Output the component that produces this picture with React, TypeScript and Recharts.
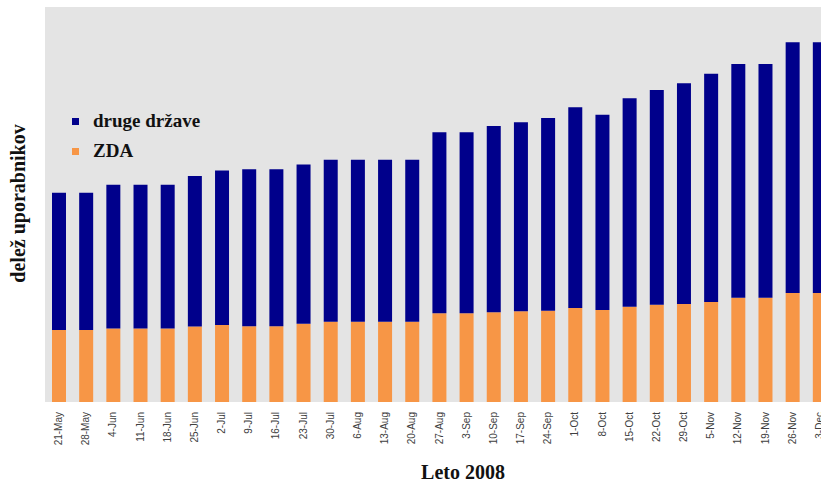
import { BarChart, Bar, XAxis, YAxis, CartesianGrid, Legend, Label } from "recharts"

// weekly share of users, 2008 (ZDA at the bottom of each stack)
const weeks = [
  "21-May", "28-May", "4-Jun", "11-Jun", "18-Jun", "25-Jun", "2-Jul", "9-Jul", "16-Jul", "23-Jul",
  "30-Jul", "6-Aug", "13-Aug", "20-Aug", "27-Aug", "3-Sep", "10-Sep", "17-Sep", "24-Sep", "1-Oct",
  "8-Oct", "15-Oct", "22-Oct", "29-Oct", "5-Nov", "12-Nov", "19-Nov", "26-Nov", "3-Dec",
]

const zda = [
  18.2, 18.2, 18.6, 18.6, 18.6, 19.1, 19.5, 19.2, 19.2, 19.8,
  20.3, 20.3, 20.3, 20.3, 22.5, 22.5, 22.7, 23.0, 23.1, 23.8,
  23.3, 24.1, 24.6, 24.8, 25.3, 26.4, 26.4, 27.6, 27.6,
]

const drugeDrzave = [
  34.8, 34.8, 36.4, 36.4, 36.4, 38.1, 39.1, 39.7, 39.7, 40.3,
  41.0, 41.0, 41.0, 41.0, 45.8, 45.8, 47.2, 47.8, 48.8, 50.8,
  49.4, 52.8, 54.4, 55.9, 57.8, 59.2, 59.2, 63.5, 63.5,
]

const data = weeks.map((week, i) => ({ week, zda: zda[i], druge: drugeDrzave[i] }))

const BLUE = "#00008b"
const ORANGE = "#f79646"
const serif = "'Liberation Serif', 'Times New Roman', serif"

const legendItems = [
  { name: "druge države", color: BLUE },
  { name: "ZDA", color: ORANGE },
]

function WeekTick({ x, y, payload }: any) {
  return (
    <g transform={`translate(${x},${y})`}>
      <text
        transform="rotate(-90)"
        textAnchor="end"
        dy="0.35em"
        fontSize={10}
        fill="#404040"
        fontFamily="'Liberation Sans', Arial, sans-serif"
      >
        {payload.value}
      </text>
    </g>
  )
}

function SeriesLegend() {
  return (
    <div style={{ fontFamily: serif, fontWeight: "bold", fontSize: 19, color: "#111" }}>
      {legendItems.map((item) => (
        <div key={item.name} style={{ display: "flex", alignItems: "center", height: 30 }}>
          <span style={{ width: 7, height: 7, background: item.color, marginRight: 14 }} />
          <span>{item.name}</span>
        </div>
      ))}
    </div>
  )
}

export default function App() {
  return (
    <div style={{ position: "fixed", left: 0, top: 0, width: 821, height: 484, overflow: "hidden", background: "#fff" }}>
      <BarChart width={840} height={484} data={data} margin={{ top: 7, right: 7, left: 0, bottom: 0 }}>
        <CartesianGrid horizontal={false} vertical={false} fill="#e4e4e4" />
        <XAxis
          dataKey="week"
          interval={0}
          height={82}
          axisLine={false}
          tickLine={false}
          tickSize={0}
          tickMargin={10}
          tick={<WeekTick />}
        >
          <Label
            content={({ viewBox }: any) => (
              <text
                x={viewBox.x + viewBox.width / 2 + 24}
                y={viewBox.y + 77}
                textAnchor="middle"
                fontFamily={serif}
                fontWeight="bold"
                fontSize={20}
                fill="#111"
              >
                Leto 2008
              </text>
            )}
          />
        </XAxis>
        <YAxis width={45} domain={[0, 100]} tick={false} axisLine={false} tickLine={false}>
          <Label
            content={({ viewBox }: any) => {
              const cx = 25
              const cy = viewBox.y + viewBox.height / 2 - 1
              return (
                <text
                  x={cx}
                  y={cy}
                  transform={`rotate(-90 ${cx} ${cy})`}
                  textAnchor="middle"
                  fontFamily={serif}
                  fontWeight="bold"
                  fontSize={20}
                  fill="#111"
                >
                  delež uporabnikov
                </text>
              )
            }}
          />
        </YAxis>
        <Legend
          layout="horizontal"
          verticalAlign="middle"
          align="center"
          wrapperStyle={{ position: "absolute", left: 72, top: 106, width: "auto" }}
          content={() => <SeriesLegend />}
        />
        <Bar dataKey="zda" name="ZDA" stackId="a" fill={ORANGE} barSize={14} isAnimationActive={false} />
        <Bar dataKey="druge" name="druge države" stackId="a" fill={BLUE} barSize={14} isAnimationActive={false} />
      </BarChart>
    </div>
  )
}
